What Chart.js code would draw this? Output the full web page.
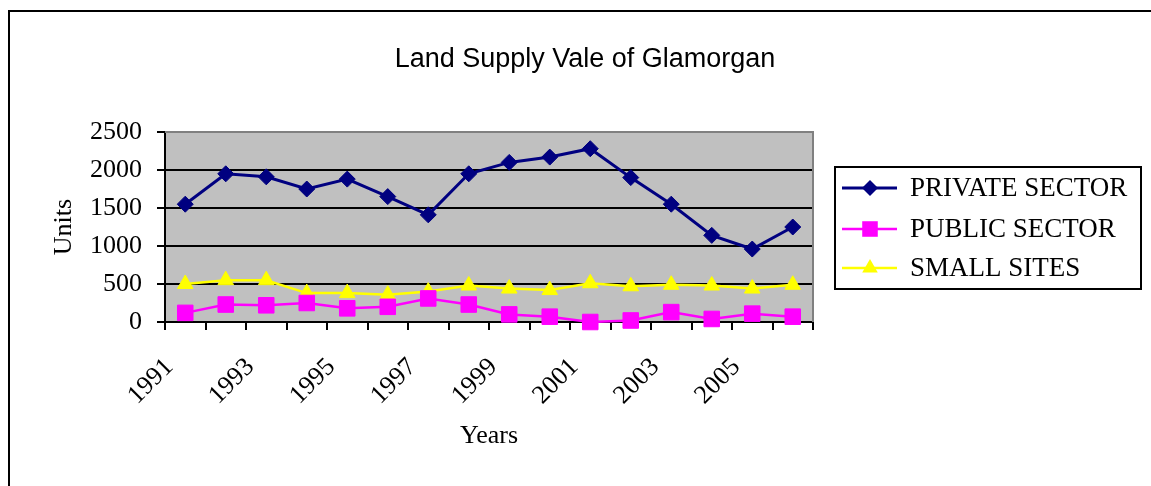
<!DOCTYPE html>
<html>
<head>
<meta charset="utf-8">
<title>Land Supply Vale of Glamorgan</title>
<script src="https://cdn.jsdelivr.net/npm/chart.js@4/dist/chart.umd.min.js"></script>
<style>
    body { margin: 0; background: #fff; }
    canvas { display: block; }
</style>
</head>
<body>
<canvas id="chart" width="1151" height="486"></canvas>
<script>
var years = ['1991', '1992', '1993', '1994', '1995', '1996', '1997', '1998',
             '1999', '2000', '2001', '2002', '2003', '2004', '2005', '2006'];
var shownYears = ['1991', '1993', '1995', '1997', '1999', '2001', '2003', '2005'];
var privateSector = [1550, 1950, 1910, 1750, 1880, 1650, 1410, 1950, 2100, 2170, 2280, 1900, 1550, 1140, 960, 1250];
var publicSector = [120, 230, 220, 250, 180, 200, 310, 230, 100, 70, 0, 20, 130, 40, 110, 70];
var smallSites = [500, 550, 550, 380, 380, 360, 400, 480, 440, 420, 510, 470, 490, 480, 440, 490];
var seriesNames = ['PRIVATE SECTOR', 'PUBLIC SECTOR', 'SMALL SITES'];

var serif = '"Liberation Serif", "Times New Roman", serif',
    sans = '"Liberation Sans", Arial, sans-serif';

// draws a marker the same way for the legend
function marker(ctx, style, x, y, r, color) {
    ctx.save();
    ctx.fillStyle = color;
    ctx.beginPath();
    if (style === 'rectRot') {
        ctx.moveTo(x, y - r); ctx.lineTo(x + r, y); ctx.lineTo(x, y + r); ctx.lineTo(x - r, y);
    } else if (style === 'rect') {
        var s = Math.SQRT1_2 * r;
        ctx.rect(x - s, y - s, 2 * s, 2 * s);
    } else {
        var a = r * Math.sin(Math.PI / 3);
        ctx.moveTo(x, y - r); ctx.lineTo(x + a, y + r / 2); ctx.lineTo(x - a, y + r / 2);
    }
    ctx.closePath();
    ctx.fill();
    ctx.restore();
}

var excelLook = {
    id: 'excelLook',
    beforeDraw: (chart) => {
        var ctx = chart.ctx, a = chart.chartArea;
        ctx.save();
        ctx.fillStyle = '#fff';
        ctx.fillRect(0, 0, chart.width, chart.height);
        // outer frame
        ctx.strokeStyle = '#000';
        ctx.lineWidth = 2;
        ctx.beginPath();
        ctx.moveTo(9, chart.height + 2);
        ctx.lineTo(9, 11);
        ctx.lineTo(chart.width + 2, 11);
        ctx.stroke();
        ctx.fillStyle = '#C0C0C0';
        ctx.fillRect(a.left, a.top, a.right - a.left, a.bottom - a.top);
        ctx.restore();
    },
    beforeDatasetsDraw: (chart) => {
        var ctx = chart.ctx, a = chart.chartArea;
        ctx.save();
        ctx.strokeStyle = '#808080';
        ctx.lineWidth = 2;
        ctx.beginPath();
        ctx.moveTo(a.left, a.top);
        ctx.lineTo(a.right, a.top);
        ctx.lineTo(a.right, a.bottom);
        ctx.stroke();
        ctx.restore();
    },
    afterDraw: (chart) => {
        var ctx = chart.ctx;
        ctx.save();
        ctx.fillStyle = '#000';
        ctx.font = '27px ' + sans;
        ctx.textAlign = 'center';
        ctx.textBaseline = 'alphabetic';
        ctx.fillText('Land Supply Vale of Glamorgan', 585, 67);

        // legend box
        ctx.strokeStyle = '#000';
        ctx.lineWidth = 2;
        ctx.strokeRect(835, 167, 306, 122);
        ctx.font = '27px ' + serif;
        ctx.textAlign = 'left';
        ctx.textBaseline = 'middle';
        var rows = [188, 229, 268];
        chart.data.datasets.forEach((ds, i) => {
            ctx.strokeStyle = ds.borderColor;
            ctx.lineWidth = ds.borderWidth;
            ctx.beginPath();
            ctx.moveTo(842, rows[i]);
            ctx.lineTo(897, rows[i]);
            ctx.stroke();
            marker(ctx, ds.pointStyle, 870, rows[i], ds.pointRadius, ds.pointBackgroundColor);
            ctx.fillStyle = '#000';
            ctx.fillText(ds.label, 910, rows[i] + 1);
        });
        ctx.restore();
    }
};

new Chart(document.getElementById('chart'), {
    type: 'line',
    data: {
        labels: years,
        datasets: [{
            label: seriesNames[0],
            data: privateSector,
            borderColor: '#000080',
            backgroundColor: '#000080',
            pointBackgroundColor: '#000080',
            pointBorderColor: '#000080',
            borderWidth: 3,
            pointStyle: 'rectRot',
            pointRadius: 8,
            pointBorderWidth: 1,
            clip: false
        }, {
            label: seriesNames[1],
            data: publicSector,
            borderColor: '#FF00FF',
            backgroundColor: '#FF00FF',
            pointBackgroundColor: '#FF00FF',
            pointBorderColor: '#FF00FF',
            borderWidth: 2.5,
            pointStyle: 'rect',
            pointRadius: 11,
            pointBorderWidth: 1,
            clip: false
        }, {
            label: seriesNames[2],
            data: smallSites,
            borderColor: '#FFFF00',
            backgroundColor: '#FFFF00',
            pointBackgroundColor: '#FFFF00',
            pointBorderColor: '#FFFF00',
            borderWidth: 2.5,
            pointStyle: 'triangle',
            pointRadius: 9,
            pointBorderWidth: 1,
            clip: false
        }]
    },
    options: {
        responsive: false,
        animation: false,
        devicePixelRatio: 1,
        layout: { padding: { left: 0, right: 338, top: 132, bottom: 0 } },
        plugins: {
            legend: { display: false },
            title: { display: false },
            tooltip: { enabled: false }
        },
        scales: {
            x: {
                offset: true,
                afterFit: (scale) => { scale.height = 164; },
                grid: {
                    offset: true,
                    drawOnChartArea: false,
                    drawTicks: true,
                    tickLength: 8,
                    color: '#000',
                    lineWidth: 2
                },
                border: { display: true, color: '#000', width: 2 },
                ticks: {
                    autoSkip: false,
                    maxRotation: 45,
                    minRotation: 45,
                    padding: 22,
                    labelOffset: -16,
                    color: '#000',
                    font: { family: serif, size: 26 },
                    callback: function (value, i) {
                        var label = this.getLabelForValue(value);
                        return shownYears.indexOf(label) >= 0 ? label : '';
                    }
                },
                title: {
                    display: true,
                    text: 'Years',
                    color: '#000',
                    font: { family: serif, size: 26 },
                    padding: { top: 0, bottom: 34 }
                }
            },
            y: {
                min: 0,
                max: 2500,
                afterFit: (scale) => { scale.width = 165; },
                grid: {
                    color: '#000',
                    lineWidth: 2,
                    tickLength: 8
                },
                border: { display: true, color: '#000', width: 2 },
                ticks: {
                    stepSize: 500,
                    padding: 15,
                    color: '#000',
                    font: { family: serif, size: 26 },
                    callback: (value) => String(value)
                },
                title: {
                    display: true,
                    text: 'Units',
                    color: '#000',
                    font: { family: serif, size: 26 },
                    padding: { top: 49, bottom: 0 }
                }
            }
        }
    },
    plugins: [excelLook]
});
</script>
</body>
</html>
